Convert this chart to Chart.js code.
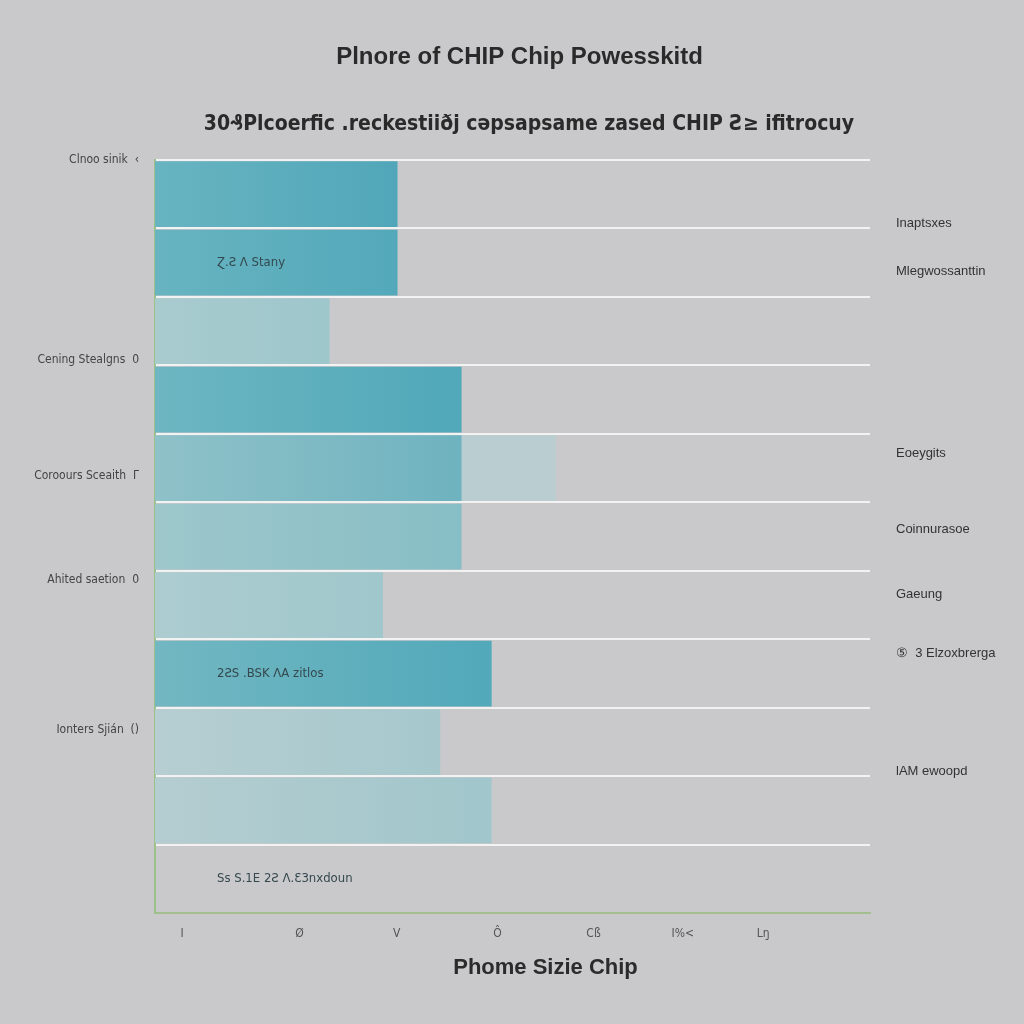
<!DOCTYPE html>
<html>
<head>
<meta charset="utf-8">
<script src="https://cdn.jsdelivr.net/npm/chart.js@4"></script>
<style>
    html, body { margin: 0; padding: 0; background: #c9c9cb; }
    #wrap { width: 1024px; height: 1024px; }
</style>
</head>
<body>
<div id="wrap"><canvas id="chipChart"></canvas></div>
<script>
// Các hàng của trục dọc
const rows = ['h0', 'h1', 'h2', 'h3', 'h4', 'h5', 'h6', 'h7', 'h8', 'h9', 'h10'];
const barValues = [2.5, 2.5, 1.8, 3.16, 3.16, 3.16, 2.35, 3.47, 2.94, 3.47, 0];
const extraValues = [0, 0, 0, 0, 4.13, 0, 0, 0, 0, 0, 0];
const barNotes = ['', 'Ɀ.Ƨ Λ Stany', '', '', '', '', '', '2ƧS .BSK ΛA zitlos', '', '', 'Ss S.1E 2Ƨ Λ.Ɛ3nxdoun'];

const leftTickPos = [0, 2.92, 4.61, 6.13, 8.32];
const leftTickLabels = ['Clnoo sinik  ‹', 'Cening Stealgns  0', 'Coroours Sceaith  Γ', 'Ahited saetion  0', 'Ionters Sjián  ()'];
const rightTickPos = [0.93, 1.62, 4.28, 5.40, 6.34, 7.20, 8.93];
const rightTickLabels = ['Inaptsxes', 'Mlegwossanttin', 'Eoeygits', 'Coinnurasoe', 'Gaeung', '⑤  3 Elzoxbrerga', 'lAM ewoopd'];
const xTickPos = [0.28, 1.49, 2.49, 3.53, 4.52, 5.44, 6.27];
const xTickLabels = ['I', 'Ø', 'V', 'Ô', 'Cß', 'I%<', 'Lŋ'];

// Màu thanh: trái nhạt, phải đậm
const leftColors = ['#68b4c1', '#68b4c1', '#a8cbce', '#6db6c2', '#8fc1c8', '#9dc7cb', '#acccd0', '#72b7c2', '#b6ced1', '#b4cdd0', '#c9c9cb'];
const rightColors = ['#48a2b6', '#4ba4b7', '#94c3c9', '#4ea7b8', '#6cb2bf', '#86bdc5', '#9ac5ca', '#52a9ba', '#a3c7cc', '#a1c6cb', '#c9c9cb'];

const narrow = '"Liberation Sans Narrow", "DejaVu Sans Condensed", sans-serif';
const sans = '"Liberation Sans", Arial, sans-serif';

function gradientFor(colorsL, colorsR) {
    return function (ctx) {
        const area = ctx.chart.chartArea;
        const i = ctx.dataIndex;
        if (!area) return colorsR[i];
        const g = ctx.chart.ctx.createLinearGradient(area.left, 0, area.left + 330, 0);
        g.addColorStop(0, colorsL[i]);
        g.addColorStop(1, colorsR[i]);
        return g;
    };
}

const barNotesPlugin = {
    id: 'barNotes',
    afterDatasetsDraw(chart) {
        const meta = chart.getDatasetMeta(0);
        const c = chart.ctx;
        c.save();
        c.font = '13px ' + narrow;
        c.fillStyle = '#34484e';
        c.textBaseline = 'middle';
        meta.data.forEach(function (bar, i) {
            if (barNotes[i]) c.fillText(barNotes[i], chart.chartArea.left + 62, bar.y);
        });
        c.restore();
    }
};

document.addEventListener('DOMContentLoaded', function () {
    const ctx = document.getElementById('chipChart').getContext('2d');
    new Chart(ctx, {
        type: 'bar',
        data: {
            labels: rows,
            datasets: [{
                label: 'Chip',
                data: barValues,
                stack: 'a',
                backgroundColor: gradientFor(leftColors, rightColors),
                borderWidth: 0,
                barPercentage: 0.96,
                categoryPercentage: 1
            }, {
                label: 'Thêm',
                data: extraValues,
                stack: 'a',
                backgroundColor: 'rgba(184, 206, 210, 0.9)',
                borderWidth: 0,
                barPercentage: 0.96,
                categoryPercentage: 1
            }]
        },
        options: {
            indexAxis: 'y',
            responsive: true,
            maintainAspectRatio: false,
            animation: false,
            layout: { padding: { left: 15, right: 0, top: 0, bottom: 33 } },
            plugins: {
                legend: { display: false },
                tooltip: { enabled: false },
                title: {
                    display: true,
                    text: 'Plnore of CHIP Chip Powesskitd',
                    color: '#2a2a2a',
                    font: { family: sans, size: 24, weight: 'bold' },
                    padding: { top: 43, bottom: 40 }
                },
                subtitle: {
                    display: true,
                    text: '\u200330₰Plcoerfic .reckestiiðj cəpsapsame zased CHIP Ƨ≥ ifitrocuy',
                    color: '#2a2a2a',
                    font: { family: narrow, size: 21, weight: 'bold' },
                    padding: { top: 0, bottom: 23 }
                }
            },
            scales: {
                x: {
                    type: 'linear',
                    min: 0,
                    max: 7.37,
                    stacked: false,
                    grid: { display: false },
                    border: { color: '#a3bf8f', width: 2 },
                    afterBuildTicks: function (scale) {
                        scale.ticks = xTickPos.map(v => ({ value: v }));
                    },
                    ticks: {
                        autoSkip: false,
                        padding: 5,
                        color: '#555',
                        font: { family: narrow, size: 12 },
                        callback: (v, i) => xTickLabels[i]
                    },
                    title: {
                        display: true,
                        text: '\u2003\u2003\u2003Phome Sizie Chip',
                        color: '#2b2b2b',
                        font: { family: sans, size: 22, weight: 'bold' },
                        padding: { top: 9, bottom: 10 }
                    }
                },
                y: {
                    stacked: true,
                    weight: 0,
                    ticks: { display: false },
                    grid: { color: 'rgba(246, 246, 246, 0.9)', lineWidth: 2, drawTicks: false },
                    border: { color: '#9cc28a', width: 2 },
                    afterFit: function (scale) { scale.width = 0; }
                },
                yL: {
                    type: 'linear',
                    position: 'left',
                    weight: 1,
                    offset: false,
                    min: 0,
                    max: 11,
                    reverse: true,
                    grid: { display: false },
                    border: { display: false },
                    afterBuildTicks: function (scale) {
                        scale.ticks = leftTickPos.map(v => ({ value: v }));
                    },
                    ticks: {
                        autoSkip: false,
                        padding: 8,
                        color: '#444',
                        font: { family: narrow, size: 12 },
                        callback: (v, i) => leftTickLabels[i]
                    },
                    afterFit: function (scale) { scale.width = 140; }
                },
                yR: {
                    type: 'linear',
                    position: 'right',
                    offset: false,
                    min: 0,
                    max: 11,
                    reverse: true,
                    grid: { display: false },
                    border: { display: false },
                    afterBuildTicks: function (scale) {
                        scale.ticks = rightTickPos.map(v => ({ value: v }));
                    },
                    ticks: {
                        autoSkip: false,
                        padding: 18,
                        color: '#333',
                        font: { family: sans, size: 13 },
                        callback: (v, i) => rightTickLabels[i]
                    },
                    afterFit: function (scale) { scale.width = 154; }
                }
            }
        },
        plugins: [barNotesPlugin]
    });
});
</script>
</body>
</html>
